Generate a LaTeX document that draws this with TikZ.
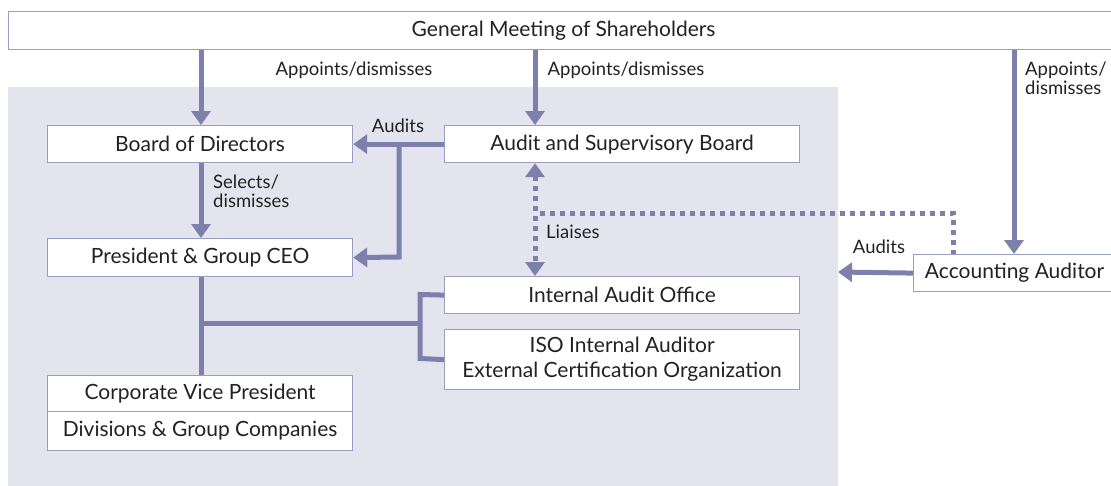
\documentclass[tikz,border=0pt]{standalone}
\usepackage{fontspec}
\setmainfont{Lato}
\usetikzlibrary{arrows.meta}
\definecolor{ln}{HTML}{7C80AA}
\definecolor{bg}{HTML}{E4E4EF}
\definecolor{bd}{HTML}{9A9CC0}
\definecolor{tx}{HTML}{222222}
\tikzset{
  box/.style={draw=bd, line width=1.2pt, fill=white, text=tx, font=\fontsize{21}{25}\selectfont, inner sep=0pt, anchor=north west},
  lbl/.style={text=tx, font=\fontsize{18.5}{19}\selectfont, inner sep=0pt},
  conn/.style={draw=ln, line width=5pt},
  arr/.style={conn, -{Triangle[width=19pt,length=14pt]}},
  dots/.style={draw=ln, line width=5pt, dash pattern=on 5pt off 5pt},
  darr/.style={dots, {Triangle[width=19pt,length=14pt]}-{Triangle[width=19pt,length=14pt]}},
}
\begin{document}
\begin{tikzpicture}[x=1pt,y=-1pt]
\useasboundingbox (0,0) rectangle (1111,485);
\fill[bg] (8,87) rectangle (838,486);
% boxes
\node[box, minimum width=1110pt, minimum height=38pt] (gms) at (8,11) {General Meeting of Shareholders};
\node[box, minimum width=305pt, minimum height=37pt] (bod) at (47,125) {Board of Directors};
\node[box, minimum width=355pt, minimum height=37pt] (asb) at (444,125) {Audit and Supervisory Board};
\node[box, minimum width=305pt, minimum height=38pt] (ceo) at (47,238) {President \& Group CEO};
\node[box, minimum width=355pt, minimum height=37pt] (iao) at (444,276) {Internal Audit Office};
\node[box, minimum width=355pt, minimum height=60pt, align=center] (iso) at (444,329) {ISO Internal Auditor\\External Certification Organization};
\node[box, minimum width=305pt, minimum height=36pt] (cvp) at (47,375) {Corporate Vice President};
\node[box, minimum width=305pt, minimum height=39pt] (div) at (47,411) {Divisions \& Group Companies};
\node[box, minimum width=202pt, minimum height=37pt] (aa) at (913,254) {Accounting Auditor};
\coordinate (bgedge) at (838,272);
% connectors
\draw[arr] (gms.south -| 201,0) -- (bod.north -| 201,0);
\draw[arr] (gms.south -| 535,0) -- (asb.north -| 535,0);
\draw[arr] (gms.south -| 1014,0) -- (aa.north -| 1014,0);
\draw[arr] (asb.west) -- (bod.east);
\draw[arr] (399,144) -- (399,257) -- (ceo.east);
\draw[arr] (bod.south -| 201,0) -- (ceo.north -| 201,0);
\draw[conn] (ceo.south -| 201,0) -- (cvp.north -| 201,0);
\draw[conn] (201,323) -- (420,323);
\draw[conn] (iao.west) -- (420,294.5) -- (420,358.5) -- (iso.west);
\draw[darr] (asb.south -| 535,0) -- (iao.north -| 535,0);
\draw[dots] (540,213) -- (953,213) -- (aa.north -| 953,0);
\draw[arr] (aa.west) -- (bgedge);
% labels
\node[lbl] (l1) at (354,70) {Appoints/dismisses};
\node[lbl] (l2) at (626,70) {Appoints/dismisses};
\node[lbl, anchor=west, align=left] (l3) at (1025,78.5) {Appoints/\\dismisses};
\node[lbl] (l4) at (398,126) {Audits};
\node[lbl, anchor=west, align=left] (l5) at (213,191.5) {Selects/\\dismisses};
\node[lbl, anchor=west] (l6) at (546,232) {Liaises};
\node[lbl] (l7) at (879,247) {Audits};
\end{tikzpicture}
\end{document}
